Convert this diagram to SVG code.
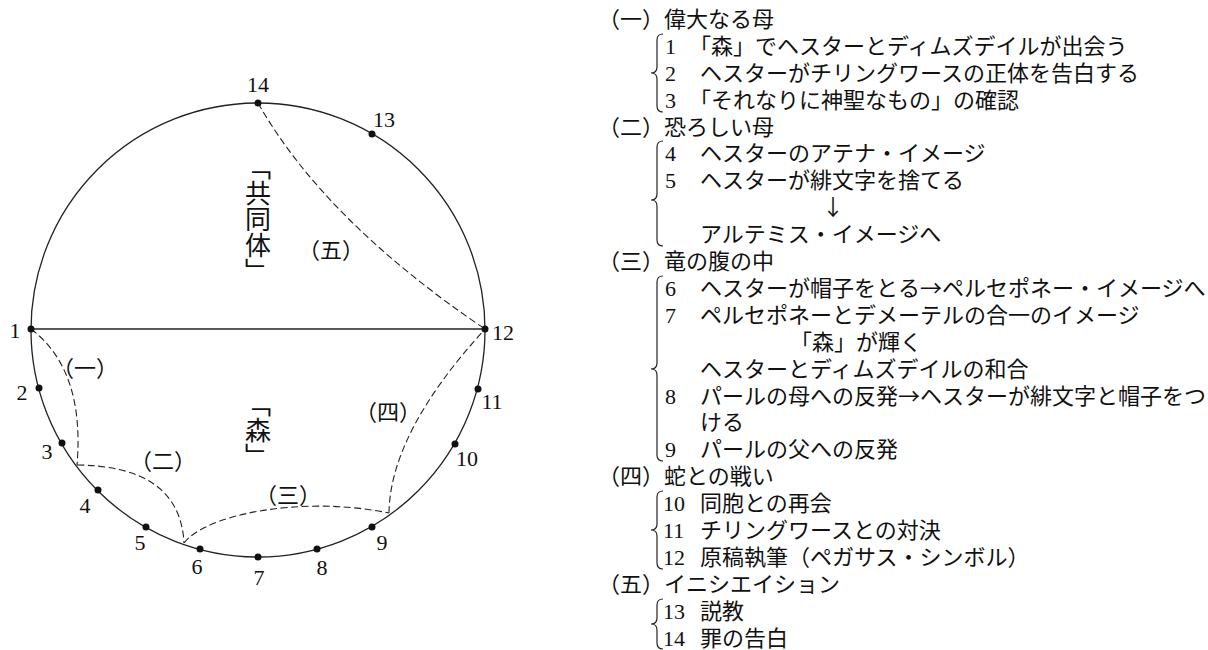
<svg xmlns="http://www.w3.org/2000/svg" width="1208" height="650" viewBox="0 0 1208 650">
<style>
.jp{font-family:"Noto Sans CJK JP","Noto Sans CJK SC",sans-serif;font-size:22px;fill:#111}
.num{font-family:"Liberation Serif",serif;font-size:22px;fill:#111}
.lbl{font-family:"Liberation Serif",serif;font-size:22px;fill:#111;text-anchor:middle}
.vert{font-family:"Noto Sans CJK JP","Noto Sans CJK SC",sans-serif;font-size:26px;fill:#111;writing-mode:vertical-rl}
.solid{fill:none;stroke:#222;stroke-width:1.3}
.dash{fill:none;stroke:#222;stroke-width:1.1;stroke-dasharray:7 3.5}
.brace{fill:none;stroke:#222;stroke-width:1.2}
.dot{fill:#111}
</style>
<rect width="1208" height="650" fill="#fff"/>
<g id="circle">
<circle class="solid" cx="258" cy="330" r="227"/>
</g>
<g id="connectors">
<line class="solid" x1="31" y1="329" x2="485" y2="329"/>
<path class="dash" d="M258,103 Q325,221 485,329"/>
<path class="dash" d="M31,329 Q85,370 77,465"/>
<path class="dash" d="M77,465 Q180,466 184,543"/>
<path class="dash" d="M184,543 C205,515 300,495 389,513"/>
<path class="dash" d="M389,513 Q390,433 485,329"/>
</g>
<g id="points">
<circle class="dot" cx="31" cy="329" r="3.5"/>
<circle class="dot" cx="39" cy="388" r="3.5"/>
<circle class="dot" cx="62" cy="443" r="3.5"/>
<circle class="dot" cx="98" cy="490" r="3.5"/>
<circle class="dot" cx="146" cy="527" r="3.5"/>
<circle class="dot" cx="200" cy="549" r="3.5"/>
<circle class="dot" cx="258" cy="557" r="3.5"/>
<circle class="dot" cx="317" cy="549" r="3.5"/>
<circle class="dot" cx="372" cy="527" r="3.5"/>
<circle class="dot" cx="455" cy="444" r="3.5"/>
<circle class="dot" cx="478" cy="389" r="3.5"/>
<circle class="dot" cx="485" cy="329" r="3.5"/>
<circle class="dot" cx="372" cy="134" r="3.5"/>
<circle class="dot" cx="258" cy="103" r="3.5"/>
</g>
<g id="point-labels">
<text class="lbl" x="15" y="338">1</text>
<text class="lbl" x="22" y="400">2</text>
<text class="lbl" x="47" y="459">3</text>
<text class="lbl" x="85" y="513">4</text>
<text class="lbl" x="140" y="550">5</text>
<text class="lbl" x="197" y="574">6</text>
<text class="lbl" x="259" y="585">7</text>
<text class="lbl" x="322" y="575">8</text>
<text class="lbl" x="382" y="550">9</text>
<text class="lbl" x="467" y="466">10</text>
<text class="lbl" x="492" y="409">11</text>
<text class="lbl" x="503" y="340">12</text>
<text class="lbl" x="384" y="127">13</text>
<text class="lbl" x="258" y="92">14</text>
</g>
<g id="region-labels">
<text class="vert" x="258" y="154">「共同体」</text>
<text class="vert" x="258" y="391">「森」</text>
<text class="jp" x="85" y="376" text-anchor="middle">（一）</text>
<text class="jp" x="163" y="469" text-anchor="middle">（二）</text>
<text class="jp" x="288" y="503" text-anchor="middle">（三）</text>
<text class="jp" x="388" y="420" text-anchor="middle">（四）</text>
<text class="jp" x="331" y="258" text-anchor="middle">（五）</text>
</g>
<g id="braces">
<path class="brace" d="M663,34 Q657,34 657,40 L657,67 Q657,73 651,73 Q657,73 657,79 L657,106 Q657,112 663,112"/>
<path class="brace" d="M663,141 Q657,141 657,147 L657,194 Q657,200 651,200 Q657,200 657,206 L657,240 Q657,246 663,246"/>
<path class="brace" d="M663,276 Q657,276 657,282 L657,363 Q657,369 651,369 Q657,369 657,375 L657,455 Q657,461 663,461"/>
<path class="brace" d="M663,491 Q657,491 657,497 L657,524 Q657,530 651,530 Q657,530 657,536 L657,563 Q657,569 663,569"/>
<path class="brace" d="M663,599 Q657,599 657,605 L657,618 Q657,624 651,624 Q657,624 657,630 L657,643 Q657,649 663,649"/>
</g>
<g id="list">
<text class="jp" x="598" y="27">（一）偉大なる母</text>
<text class="num" x="665" y="54">1</text><text class="jp" x="689" y="54">「森」でヘスターとディムズデイルが出会う</text>
<text class="num" x="665" y="81">2</text><text class="jp" x="700" y="81">ヘスターがチリングワースの正体を告白する</text>
<text class="num" x="665" y="108">3</text><text class="jp" x="689" y="108">「それなりに神聖なもの」の確認</text>
<text class="jp" x="598" y="135">（二）恐ろしい母</text>
<text class="num" x="665" y="161">4</text><text class="jp" x="700" y="161">ヘスターのアテナ・イメージ</text>
<text class="num" x="665" y="188">5</text><text class="jp" x="700" y="188">ヘスターが緋文字を捨てる</text>
<text class="jp" x="833" y="215" text-anchor="middle">↓</text>
<text class="jp" x="700" y="242">アルテミス・イメージへ</text>
<text class="jp" x="598" y="269">（三）竜の腹の中</text>
<text class="num" x="665" y="296">6</text><text class="jp" x="700" y="296">ヘスターが帽子をとる→ペルセポネー・イメージへ</text>
<text class="num" x="665" y="323">7</text><text class="jp" x="700" y="323">ペルセポネーとデメーテルの合一のイメージ</text>
<text class="jp" x="790" y="350">「森」が輝く</text>
<text class="jp" x="700" y="377">ヘスターとディムズデイルの和合</text>
<text class="num" x="665" y="404">8</text><text class="jp" x="700" y="404">パールの母への反発→ヘスターが緋文字と帽子をつ</text>
<text class="jp" x="700" y="430">ける</text>
<text class="num" x="665" y="457">9</text><text class="jp" x="700" y="457">パールの父への反発</text>
<text class="jp" x="598" y="484">（四）蛇との戦い</text>
<text class="num" x="663" y="511">10</text><text class="jp" x="700" y="511">同胞との再会</text>
<text class="num" x="663" y="538">11</text><text class="jp" x="700" y="538">チリングワースとの対決</text>
<text class="num" x="663" y="565">12</text><text class="jp" x="700" y="565">原稿執筆（ペガサス・シンボル）</text>
<text class="jp" x="598" y="592">（五）イニシエイション</text>
<text class="num" x="663" y="619">13</text><text class="jp" x="700" y="619">説教</text>
<text class="num" x="663" y="646">14</text><text class="jp" x="700" y="646">罪の告白</text>
</g>
</svg>
